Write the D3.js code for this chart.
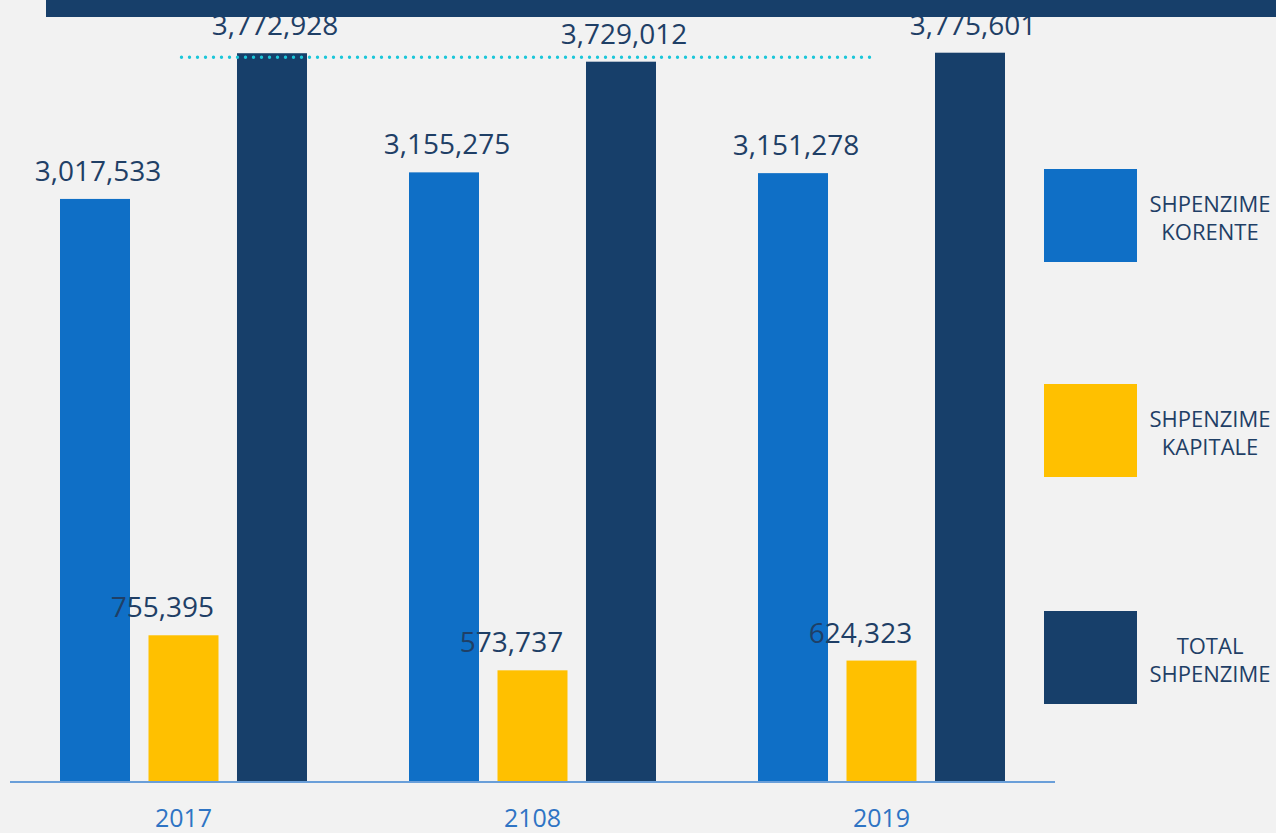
<!DOCTYPE html>
<meta charset="utf-8">
<title>Shpenzime</title>
<style>

body {
  margin: 0;
  background: #f2f2f2;
}

text {
  font-family: "Open Sans", "Noto Sans", sans-serif;
}

</style>
<body>

<div id="chart"></div>

<script src="https://d3js.org/d3.v7.min.js"></script>
<script>
  // values
  var years = ["2017", "2108", "2019"];
  var series = ["SHPENZIME KORENTE", "SHPENZIME KAPITALE", "TOTAL SHPENZIME"];
  var korente = [3017533, 3155275, 3151278];
  var kapitale = [755395, 573737, 624323];
  var total = [3772928, 3729012, 3775601];
  var refValue = 3752000; // dotted cyan line near the top

  var colors = ["#0f6fc6", "#ffc000", "#173f6a"];
  var labelShift = [3, -21, 3];

  var width = 1276, height = 833;

  var svg = d3.select("#chart").append("svg")
      .attr("width", width)
      .attr("height", height);

  svg.append("rect")
      .attr("width", width)
      .attr("height", height)
      .attr("fill", "#f2f2f2");

  var x = d3.scaleBand()
      .domain(years)
      .range([60, 1005])
      .paddingInner(0.2923)
      .paddingOuter(0);

  var xs = d3.scaleBand()
      .domain(series)
      .range([0, x.bandwidth()])
      .paddingInner(0.209);

  var y = d3.scaleLinear()
      .domain([0, 3800000])
      .range([781, 48]);

  var fmt = d3.format(",");

  // build rows from the arrays
  var rows = [];
  years.forEach(function(yr, i) {
    [korente[i], kapitale[i], total[i]].forEach(function(v, j) {
      rows.push({year: yr, s: series[j], k: j, value: v});
    });
  });

  svg.selectAll("rect.bar")
      .data(rows)
    .enter().append("rect")
      .attr("class", "bar")
      .attr("x", function(d) { return x(d.year) + xs(d.s); })
      .attr("y", function(d) { return y(d.value); })
      .attr("width", xs.bandwidth())
      .attr("height", function(d) { return y(0) - y(d.value); })
      .attr("fill", function(d) { return colors[d.k]; });

  // dotted reference line, from 2017 kapitale to 2019 kapitale
  var kap = series[1];
  svg.append("line")
      .attr("x1", x(years[0]) + xs(kap) + xs.bandwidth() / 2 - 2)
      .attr("x2", x(years[2]) + xs(kap) + xs.bandwidth() / 2 - 6)
      .attr("y1", y(refValue))
      .attr("y2", y(refValue))
      .attr("stroke", "#1cc7d9")
      .attr("stroke-width", 3.4)
      .attr("stroke-linecap", "round")
      .attr("stroke-dasharray", "0,8");

  svg.selectAll("text.val")
      .data(rows)
    .enter().append("text")
      .attr("class", "val")
      .attr("x", function(d) { return x(d.year) + xs(d.s) + xs.bandwidth() / 2 + labelShift[d.k]; })
      .attr("y", function(d) { return y(d.value) - 18; })
      .attr("text-anchor", "middle")
      .attr("font-size", 28)
      .attr("fill", "#1f3f66")
      .text(function(d) { return fmt(d.value); });

  // baseline
  svg.append("line")
      .attr("x1", 10)
      .attr("x2", 1055)
      .attr("y1", y(0) + 1)
      .attr("y2", y(0) + 1)
      .attr("stroke", "#6a9fd9")
      .attr("stroke-width", 2);

  var xAxis = svg.append("g")
      .attr("transform", "translate(0," + y(0) + ")")
      .call(d3.axisBottom(x).tickSize(0).tickPadding(28));
  xAxis.select(".domain").remove();
  xAxis.selectAll("text")
      .attr("font-size", 25)
      .attr("font-family", "'Open Sans', sans-serif")
      .attr("fill", "#2e74c4");

  // legend
  var legendY = d3.scaleOrdinal()
      .domain(series)
      .range([169, 384, 611]);

  var legend = svg.selectAll("g.legend")
      .data(series)
    .enter().append("g")
      .attr("class", "legend")
      .attr("transform", function(d) { return "translate(1044," + legendY(d) + ")"; });

  legend.append("rect")
      .attr("width", 93)
      .attr("height", 93)
      .attr("fill", function(d, i) { return colors[i]; });

  legend.each(function(d) {
    var words = d.split(" ");
    var g = d3.select(this);
    words.forEach(function(w, i) {
      g.append("text")
          .attr("x", 166)
          .attr("y", 43 + i * 28)
          .attr("text-anchor", "middle")
          .attr("font-size", 22)
          .attr("fill", "#1f3f66")
          .text(w);
    });
  });

  // dark band across the top
  svg.append("rect")
      .attr("x", 46)
      .attr("y", 0)
      .attr("width", width - 46)
      .attr("height", 17)
      .attr("fill", "#173f6a");

</script>

</body>
</html>
